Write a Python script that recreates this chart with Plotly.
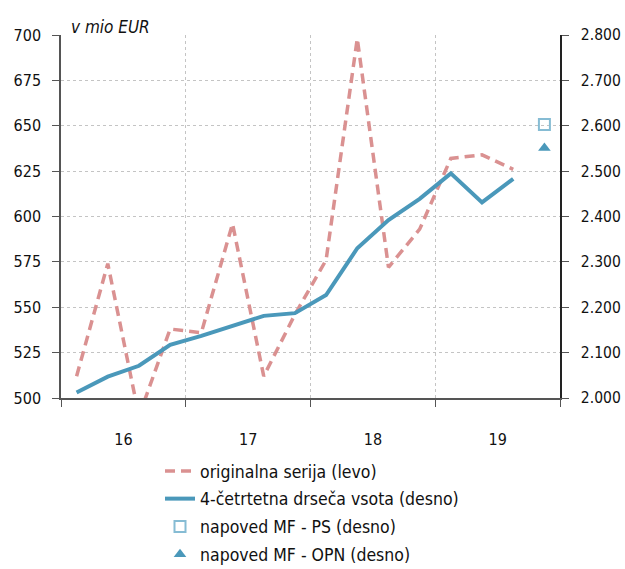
import plotly.graph_objects as go

# Quarterly data, 2016 Q1 .. 2019 Q4
quarters = ["16Q1", "16Q2", "16Q3", "16Q4",
            "17Q1", "17Q2", "17Q3", "17Q4",
            "18Q1", "18Q2", "18Q3", "18Q4",
            "19Q1", "19Q2", "19Q3", "19Q4"]
years = ["16", "17", "18", "19"]

# original series, mio EUR (left axis)
original = [512, 574, 490, 538, 536, 596, 512, 546, 576, 698, 572, 593, 632, 634, 626]
# 4-quarter moving sum, mio EUR (right axis)
moving_sum = [2012, 2047, 2071, 2117, 2137, 2159, 2181, 2187, 2227, 2330, 2392, 2439, 2495, 2431, 2483]
# forecasts for the last quarter (right axis)
forecast_ps = [2603]
forecast_opn = [2551]

xi = list(range(len(quarters)))

FONT = "DejaVu Sans Condensed"
RED = "#da9191"
BLUE = "#4a98ba"
GRID = "#c4c4c4"
AXIS = "#555555"
TICKFONT = dict(family=FONT, size=16, color="#111111")

fig = go.Figure()
fig.add_trace(go.Scatter(
    x=xi[:len(original)], y=original, mode="lines", name="originalna serija (levo)",
    legendgroup="a", line=dict(color=RED, width=3.5, dash="10px,6px"), yaxis="y"))
fig.add_trace(go.Scatter(
    x=xi[:len(moving_sum)], y=moving_sum, mode="lines", name="4-četrtetna drseča vsota (desno)",
    legendgroup="b", line=dict(color=BLUE, width=4), yaxis="y2"))
fig.add_trace(go.Scatter(
    x=[xi[-1]], y=forecast_ps, mode="markers", name="napoved MF - PS (desno)",
    legendgroup="c",
    marker=dict(symbol="square-open", size=11, color="#86bcd4", line=dict(width=2)), yaxis="y2"))
fig.add_trace(go.Scatter(
    x=[xi[-1]], y=forecast_opn, mode="markers", name="napoved MF - OPN (desno)",
    legendgroup="d",
    marker=dict(symbol="triangle-up", size=11, color=BLUE), yaxis="y2"))

fig.update_layout(
    width=625, height=569,
    margin=dict(l=61, r=65, t=35, b=171, autoexpand=False),
    paper_bgcolor="white", plot_bgcolor="white",
    separators=",.",
    font=dict(family=FONT, size=17, color="#111111"),
    showlegend=True,
    legend=dict(xref="container", yref="container", x=0.256, y=1 - 453 / 569,
                xanchor="left", yanchor="top",
                font=dict(family=FONT, size=17.5, color="#111111"),
                bgcolor="rgba(0,0,0,0)", tracegroupgap=2),
    xaxis=dict(
        range=[-0.5, 15.5], automargin=False,
        tickvals=[1.5, 5.5, 9.5, 13.5], ticktext=years, tickfont=TICKFONT,
        ticks="", showgrid=False, zeroline=False,
        showline=True, linecolor=AXIS, linewidth=1.5,
        ticklabelstandoff=26,
        minor=dict(tick0=-0.5, dtick=4, ticks="outside", ticklen=7, tickcolor=AXIS,
                   showgrid=True, gridcolor=GRID, griddash="dot", gridwidth=1),
    ),
    yaxis=dict(
        range=[500, 700], dtick=25, tick0=500, automargin=False, tickfont=TICKFONT,
        showline=True, linecolor=AXIS, linewidth=1.5,
        ticks="outside", ticklen=7, tickcolor=AXIS,
        showgrid=True, gridcolor=GRID, griddash="dot", gridwidth=1,
        zeroline=False, ticklabelstandoff=8,
    ),
    yaxis2=dict(
        range=[2000, 2800], dtick=100, tick0=2000, overlaying="y", side="right",
        tickformat=",d", automargin=False,
        tickfont=dict(family=FONT, size=15.5, color="#111111"),
        showline=True, linecolor="#222222", linewidth=1.5,
        ticks="outside", ticklen=7, tickcolor=AXIS,
        showgrid=False, zeroline=False, ticklabelstandoff=9,
    ),
    annotations=[dict(
        text="v mio EUR", xref="paper", yref="paper", x=0.016, y=1,
        xanchor="left", yanchor="bottom", showarrow=False, yshift=-4,
        font=dict(family=FONT, size=17, style="italic", color="#111111"))],
)

fig.write_html("out.html")
